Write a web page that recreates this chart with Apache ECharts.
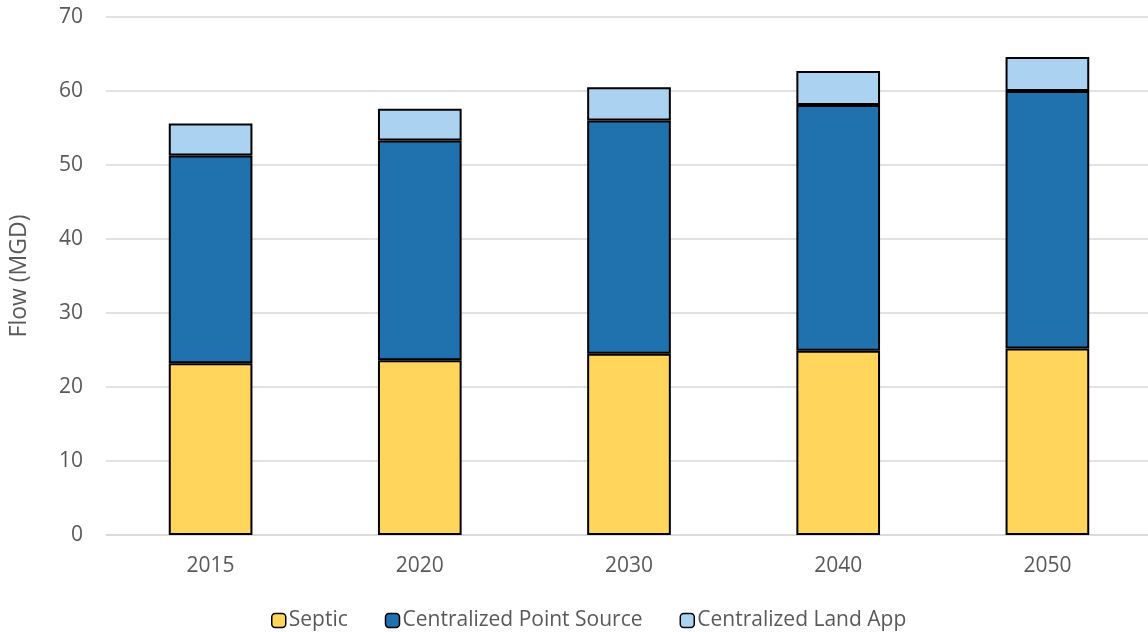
<!DOCTYPE html>
<html>
<head>
<meta charset="utf-8">
<script src="https://cdn.jsdelivr.net/npm/echarts@6/dist/echarts.min.js"></script>
<style>
html,body{margin:0;padding:0;background:#fff;}
#chart{width:1148px;height:632px;}
</style>
</head>
<body>
<div id="chart"></div>
<script>
const categories = ['2015', '2020', '2030', '2040', '2050'];
const septic = [23.2, 23.6, 24.5, 24.9, 25.2];
const pointSource = [28.1, 29.7, 31.5, 33.2, 34.8];
const landApp = [4.3, 4.3, 4.5, 4.6, 4.6];
const yTicks = [0, 10, 20, 30, 40, 50, 60, 70];

const font = '"Open Sans", "Noto Sans", sans-serif';
const textColor = '#595959';
const chart = echarts.init(document.getElementById('chart'), null, {renderer: 'canvas'});

function barSeries(name, data, color) {
  return {
    name: name,
    type: 'bar',
    stack: 'total',
    data: data,
    barCategoryGap: '60%',
    itemStyle: {color: color, borderColor: '#000', borderWidth: 2},
    emphasis: {disabled: true}
  };
}

chart.setOption({
  animation: false,
  textStyle: {fontFamily: font},
  grid: {left: 106, width: 1046, top: 17, bottom: 97, containLabel: false, outerBoundsMode: 'none'},
  legend: {
    top: 605,
    left: 266,
    itemWidth: 14,
    itemHeight: 14,
    itemGap: 37,
    textStyle: {color: textColor, fontSize: 21, fontFamily: font, padding: [0, 0, 0, -2]},
    data: [
      {name: 'Septic', itemStyle: {borderColor: '#000', borderWidth: 1.5}},
      {name: 'Centralized Point Source', itemStyle: {borderColor: '#000', borderWidth: 1.5}},
      {name: 'Centralized Land App', itemStyle: {borderColor: '#000', borderWidth: 1.5}}
    ]
  },
  xAxis: {
    type: 'category',
    data: categories,
    axisLine: {lineStyle: {color: '#d9d9d9', width: 1.5}},
    axisTick: {show: false},
    axisLabel: {color: textColor, fontSize: 21, margin: 21, fontFamily: font}
  },
  yAxis: {
    type: 'value',
    min: yTicks[0],
    max: yTicks[yTicks.length - 1],
    interval: 10,
    name: 'Flow (MGD)',
    nameLocation: 'middle',
    nameGap: 75,
    nameTextStyle: {color: textColor, fontSize: 23, fontFamily: font},
    axisLine: {show: false},
    axisTick: {show: false},
    axisLabel: {color: textColor, fontSize: 21, margin: 23, fontFamily: font},
    splitLine: {lineStyle: {color: '#d9d9d9', width: 1.5}}
  },
  series: [
    barSeries('Septic', septic, '#FFD55B'),
    barSeries('Centralized Point Source', pointSource, '#1F72AE'),
    barSeries('Centralized Land App', landApp, '#ABD2F1')
  ]
});
</script>
</body>
</html>
